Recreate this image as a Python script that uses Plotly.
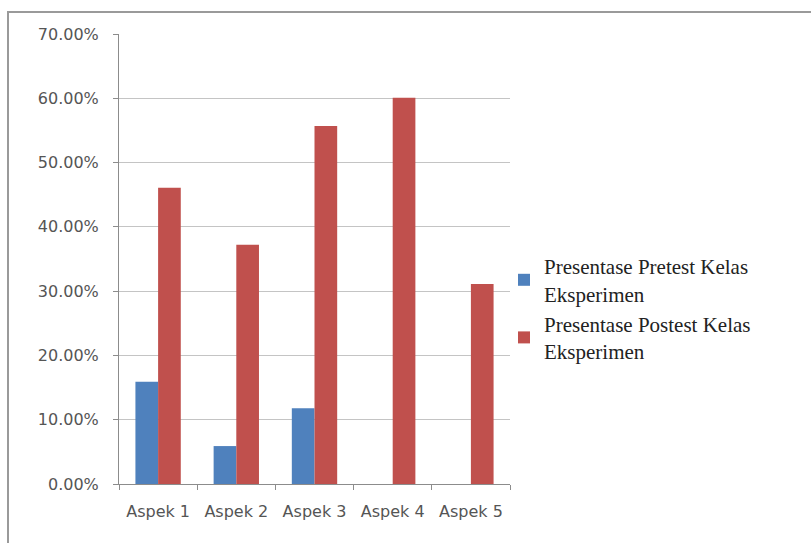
import plotly.graph_objects as go

# Data
aspek = ["Aspek 1", "Aspek 2", "Aspek 3", "Aspek 4", "Aspek 5"]
pretest = [0.159, 0.059, 0.118, 0.0, 0.0]
postest = [0.461, 0.372, 0.557, 0.601, 0.311]
series_names = [
    "Presentase Pretest Kelas<br>Eksperimen",
    "Presentase Postest Kelas<br>Eksperimen",
]
y_ticks = [0, 0.1, 0.2, 0.3, 0.4, 0.5, 0.6, 0.7]

W, H = 811, 543
ML, MR, MT, MB = 119, 301, 34, 59
PW, PH = W - ML - MR, H - MT - MB


def px_x(p):
    return (p - ML) / PW


def px_y(p):
    return (H - MB - p) / PH


fig = go.Figure()
fig.add_trace(go.Bar(x=aspek, y=pretest, name=series_names[0],
                     marker=dict(color="#4F81BD", line=dict(width=0))))
fig.add_trace(go.Bar(x=aspek, y=postest, name=series_names[1],
                     marker=dict(color="#C0504D", line=dict(width=0))))

tick_font = dict(family="DejaVu Sans", size=16, color="#555555")

fig.update_layout(
    width=W, height=H,
    margin=dict(l=ML, r=MR, t=MT, b=MB, pad=0),
    paper_bgcolor="white", plot_bgcolor="white",
    barmode="group", bargap=0.42, bargroupgap=0,
    showlegend=True,
    legend=dict(
        x=px_x(504), y=px_y(246), xanchor="left", yanchor="top",
        font=dict(family="Liberation Serif", size=21, color="#222222"),
        bgcolor="rgba(0,0,0,0)", borderwidth=0,
        tracegroupgap=4, itemwidth=30,
    ),
    xaxis=dict(
        type="category", showline=True, linecolor="#8c8c8c", linewidth=1,
        ticks="outside", tickson="boundaries", ticklen=5, tickcolor="#8c8c8c",
        tickfont=tick_font, showgrid=False, ticklabelstandoff=13,
    ),
    yaxis=dict(
        range=[0, 0.7], tickvals=y_ticks, tickformat=".2%",
        showline=True, linecolor="#8c8c8c", linewidth=1,
        ticks="outside", ticklen=5, tickcolor="#8c8c8c",
        showgrid=True, gridcolor="#c4c4c4", gridwidth=1,
        zeroline=False, tickfont=tick_font, ticklabelstandoff=11,
    ),
    shapes=[dict(
        type="rect", xref="paper", yref="paper",
        x0=px_x(8), x1=px_x(W + 10), y0=px_y(H + 10), y1=px_y(12),
        line=dict(color="#9a9a9a", width=2), layer="below",
    )],
)

fig.write_html("out.html")
